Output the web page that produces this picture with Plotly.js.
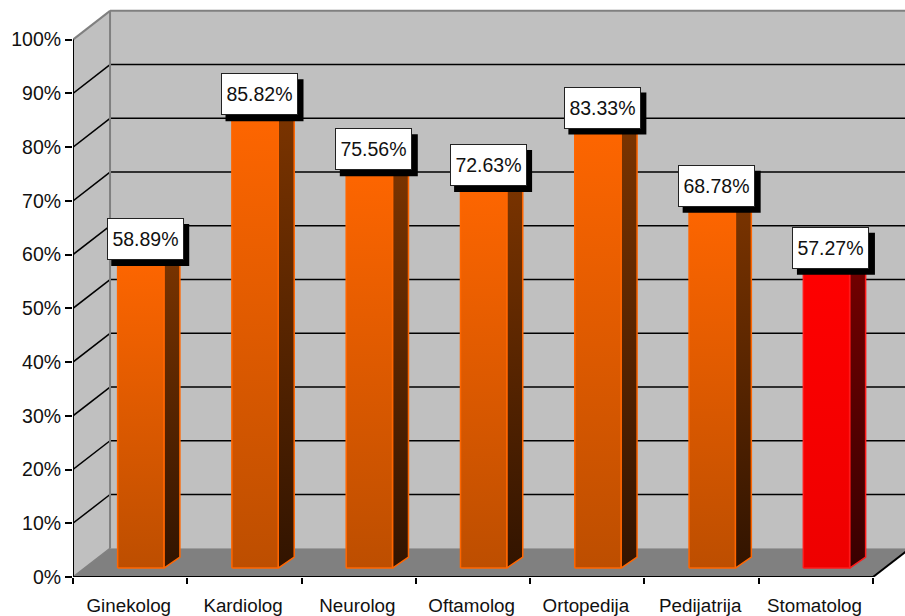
<!DOCTYPE html>
<html><head><meta charset="utf-8">
<script src="https://cdn.plot.ly/plotly-3.0.1.min.js"></script>
<style>html,body{margin:0;padding:0;background:#fff}#c{width:905px;height:616px}</style>
</head><body><div id="c"></div>
<script>
const categories = ["Ginekolog","Kardiolog","Neurolog","Oftamolog","Ortopedija","Pedijatrija","Stomatolog"];
const values = [58.89,85.82,75.56,72.63,83.33,68.78,57.27];
const yTicks = [0,10,20,30,40,50,60,70,80,90,100];
const yTickLabels = ["0%","10%","20%","30%","40%","50%","60%","70%","80%","90%","100%"];
const highlighted = [false,false,false,false,false,false,true];

// 3D look of the chart, in axis units
const X0=-0.5, X1=6.5, XMAX=6.78, YMAX=107;
const DX=0.324, DY=5.35;          // depth of the box
const BAR_W=0.405, BAR_SHIFT=0.093, BAR_BASE=1.67;
const SIDE_DX=0.14, SIDE_DY=2.05;
const LABEL_SHIFT=0.039, LABEL_LIFT=0.3;

const orange={front:['#ff6600','#bd4e00'],side:['#7d3500','#321400'],line:'#ff6600'};
const red={front:['#ff0000','#ee0000'],side:['#750000','#380000'],line:'#ff1a1a'};
const path=p=>'M'+p.map(a=>a.join(',')).join('L')+'Z';
const wall='#c0c0c0', grey='#808080';

const shapes=[
 {type:'path',layer:'below',xref:'x',yref:'y',path:path([[X0+DX,DY],[X0+DX,100+DY],[X1+DX,100+DY],[X1+DX,DY]]),fillcolor:wall,line:{width:0}},
 {type:'path',layer:'below',xref:'x',yref:'y',path:path([[X0,0],[X0,100],[X0+DX,100+DY],[X0+DX,DY]]),fillcolor:wall,line:{width:0}},
 {type:'path',layer:'below',xref:'x',yref:'y',path:path([[X0,0],[X0+DX,DY],[X1+DX,DY],[X1,0]]),fillcolor:grey,line:{width:0}}
];
const seg=(x0,y0,x1,y1,color,width)=>shapes.push({type:'line',layer:'below',xref:'x',yref:'y',x0,y0,x1,y1,line:{color,width}});
yTicks.filter(v=>v>0&&v<100).forEach(v=>{
  seg(X0,v,X0+DX,v+DY,'#000',1.5);
  seg(X0+DX,v+DY,X1+DX,v+DY,'#000',1.5);
});
seg(X0,0,X0+DX,DY,grey,1.5);
seg(X0,100,X0+DX,100+DY,grey,2);
seg(X0+DX,100+DY,X1+DX,100+DY,grey,2);
seg(X0+DX,DY,X0+DX,100+DY,grey,2);

const traces=[];
// real bars
traces.push({type:'bar',x:categories.map((c,i)=>i+BAR_SHIFT),y:values,base:BAR_BASE,width:BAR_W,
  marker:{color:highlighted.map(h=>h?'#ff0000':'#e05c00'),line:{width:0}},hoverinfo:'skip',showlegend:false});
// gradient front and side faces over them
values.forEach((v,i)=>{
  const s=highlighted[i]?red:orange;
  const l=i+BAR_SHIFT-BAR_W/2, r=l+BAR_W, b=BAR_BASE, t=BAR_BASE+v;
  traces.push({type:'scatter',mode:'lines',x:[r,r+SIDE_DX,r+SIDE_DX,r,r],y:[b,b+SIDE_DY,t+SIDE_DY,t,b],fill:'toself',
    fillgradient:{type:'vertical',colorscale:[[0,s.side[1]],[1,s.side[0]]]},line:{color:s.line,width:1.5},hoverinfo:'skip',showlegend:false});
  traces.push({type:'scatter',mode:'lines',x:[l,r,r,l,l],y:[b,b,t,t,b],fill:'toself',
    fillgradient:{type:'vertical',colorscale:[[0,s.front[1]],[1,s.front[0]]]},line:{color:s.line,width:1.5},hoverinfo:'skip',showlegend:false});
});
// axis lines stop at 100 % and at the last category
traces.push({type:'scatter',mode:'lines',cliponaxis:false,x:[X0,X0,X1],y:[100,0,0],line:{color:'#000',width:2},hoverinfo:'skip',showlegend:false});
traces.push({type:'scatter',mode:'lines',x:[X1,X1+DX],y:[0,DY],line:{color:'#000',width:2},hoverinfo:'skip',showlegend:false});

// label boxes with hard shadow
const annotations=[];
values.forEach((v,i)=>{
  const cx=i+BAR_SHIFT+LABEL_SHIFT, cy=BAR_BASE+v+SIDE_DY+LABEL_LIFT;
  shapes.push({type:'rect',layer:'above',xref:'x',yref:'y',xsizemode:'pixel',ysizemode:'pixel',xanchor:cx,yanchor:cy,
    x0:-34,x1:44,y0:-27,y1:15,fillcolor:'#000',line:{width:0}});
  annotations.push({xref:'x',yref:'y',x:cx,y:cy,text:v.toFixed(2)+'%',showarrow:false,width:75,height:40,
    align:'center',valign:'middle',bgcolor:'#fff',bordercolor:'#222',borderwidth:1,borderpad:0,
    font:{family:'"Liberation Sans",Arial,sans-serif',size:19.5,color:'#111'}});
});

const layout={
  width:905,height:616,margin:{l:73,r:0,t:2,b:39,pad:0},
  paper_bgcolor:'#fff',plot_bgcolor:'#fff',showlegend:false,barmode:'overlay',
  font:{family:'"Liberation Sans",Arial,sans-serif',size:18.5,color:'#111'},
  xaxis:{type:'linear',range:[X0,XMAX],tickmode:'array',tickvals:categories.map((c,i)=>i-0.012),ticktext:categories,
    ticks:'outside',ticklen:11,tickcolor:'rgba(0,0,0,0)',tickwidth:1,showgrid:false,zeroline:false,showline:false,
    tickfont:{size:18.8},
    minor:{tickmode:'array',tickvals:categories.map((c,i)=>i-0.5).concat([X1]),ticks:'outside',ticklen:6,tickwidth:2,tickcolor:'#000',showgrid:false}},
  yaxis:{range:[0,YMAX],tickmode:'array',tickvals:yTicks,ticktext:yTickLabels,ticks:'outside',ticklen:7,tickwidth:2,tickcolor:'#000',
    showgrid:false,zeroline:false,showline:false,tickfont:{size:19.5}},
  shapes,annotations
};
Plotly.newPlot('c',traces,layout,{displayModeBar:false,staticPlot:true});
</script></body></html>
